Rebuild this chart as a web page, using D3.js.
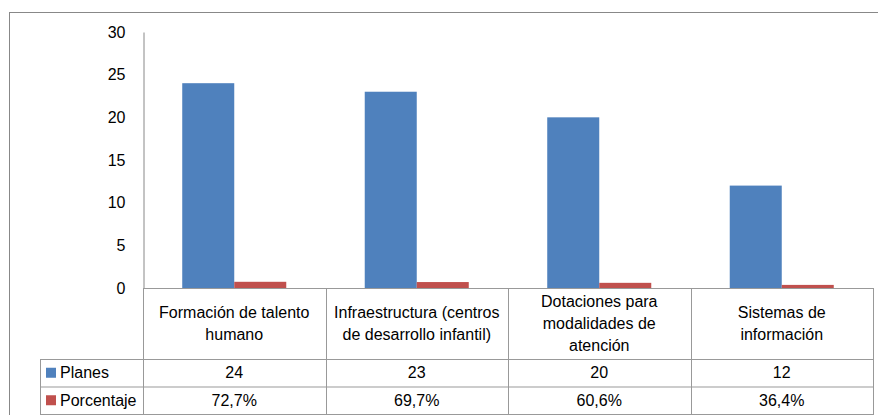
<!DOCTYPE html>
<html>
<head>
<meta charset="utf-8">
<script src="https://cdn.jsdelivr.net/npm/d3@7"></script>
<style>
  body { margin: 0; background: #fff; }
  text { font-family: "Liberation Sans", Arial, sans-serif; fill: #000; }
</style>
</head>
<body>
<div id="area"></div>
<script>
const categories = ['Formación de talento\nhumano',
                    'Infraestructura (centros\nde desarrollo infantil)',
                    'Dotaciones para\nmodalidades de\natención',
                    'Sistemas de\ninformación']
const planes = [24, 23, 20, 12]
const porcentaje = [0.727, 0.697, 0.606, 0.364]
const porcentajeLabels = ['72,7%', '69,7%', '60,6%', '36,4%']
const yTicks = [0, 5, 10, 15, 20, 25, 30]
const series = [
  {name: 'Planes', values: planes, labels: planes.map(String), color: '#4F81BD'},
  {name: 'Porcentaje', values: porcentaje, labels: porcentajeLabels, color: '#C0504D'}
]

const svg = d3.select('#area')
            .append('svg')
            .attr('width', 878)
            .attr('height', 415)

// outer chart border (runs off the right and bottom edge)
svg.append('rect')
    .attr('x', 9.5)
    .attr('y', 12.5)
    .attr('width', 900)
    .attr('height', 500)
    .attr('fill', 'none')
    .attr('stroke', '#888')

const plotLeft = 143, plotRight = 873, plotTop = 32, plotBottom = 288
const rowTop = 359, rowMid = 386.5, rowBottom = 414
const legendLeft = 40

const yScale = d3.scaleLinear()
              .domain([0, 30])
              .range([plotBottom, plotTop])
const xScale = d3.scaleBand()
              .domain(d3.range(categories.length))
              .range([plotLeft, plotRight])
              .paddingInner(0.43)
              .paddingOuter(0.215)
const sScale = d3.scaleBand()
              .domain(series.map(s => s.name))
              .range([0, xScale.bandwidth()])

// y axis
const yAxis = svg.append('g')
    .attr('transform', `translate(${plotLeft + 0.5},0)`)
    .call(d3.axisLeft(yScale).tickValues(yTicks).tickSize(0).tickSizeOuter(0).tickPadding(18))
yAxis.select('.domain').attr('stroke', '#888')
yAxis.selectAll('text')
    .style('font-family', '"Liberation Sans", Arial, sans-serif')
    .style('font-size', '16px')

// bars
series.forEach(s => {
  svg.selectAll('rect.' + s.name)
      .data(s.values)
      .enter()
      .append('rect')
      .attr('class', s.name)
      .attr('x', (d, i) => xScale(i) + sScale(s.name))
      .attr('y', d => yScale(d))
      .attr('width', sScale.bandwidth())
      .attr('height', d => plotBottom - yScale(d))
      .attr('fill', s.color)
})

// data table lines
const step = xScale.step()
const lines = svg.append('g').attr('stroke', '#999').attr('stroke-width', 1)
lines.append('line').attr('x1', plotLeft).attr('x2', plotRight).attr('y1', plotBottom + 0.5).attr('y2', plotBottom + 0.5)
lines.append('line').attr('x1', legendLeft).attr('x2', plotRight).attr('y1', rowTop + 0.5).attr('y2', rowTop + 0.5)
lines.append('line').attr('x1', legendLeft).attr('x2', plotRight).attr('y1', rowMid + 0.5).attr('y2', rowMid + 0.5)
lines.append('line').attr('x1', legendLeft).attr('x2', plotRight).attr('y1', rowBottom + 0.5).attr('y2', rowBottom + 0.5)
lines.append('line').attr('x1', legendLeft + 0.5).attr('x2', legendLeft + 0.5).attr('y1', rowTop).attr('y2', rowBottom + 1)
d3.range(categories.length + 1).forEach(i => {
  const x = Math.round(plotLeft + i * step) + 0.5
  lines.append('line').attr('x1', x).attr('x2', x).attr('y1', plotBottom).attr('y2', rowBottom + 1)
})

// category labels
const catCenter = (plotBottom + rowTop) / 2
svg.selectAll('text.cat')
    .data(categories)
    .enter()
    .append('text')
    .attr('class', 'cat')
    .attr('text-anchor', 'middle')
    .style('font-size', '16px')
    .each(function(c, i) {
      const parts = c.split('\n')
      const cx = plotLeft + (i + 0.5) * step
      parts.forEach((p, j) => {
        d3.select(this).append('tspan')
          .attr('x', cx)
          .attr('y', catCenter + 5.5 + (j - (parts.length - 1) / 2) * 22)
          .text(p)
      })
    })

// value rows with legend keys
series.forEach((s, k) => {
  const y0 = k === 0 ? rowTop : rowMid
  const yc = y0 + (rowMid - rowTop) / 2
  svg.append('rect')
      .attr('x', legendLeft + 6)
      .attr('y', yc - 5)
      .attr('width', 10)
      .attr('height', 10)
      .attr('fill', s.color)
  svg.append('text')
      .attr('x', legendLeft + 20)
      .attr('y', yc + 5.5)
      .style('font-size', '16px')
      .text(s.name)
  svg.selectAll('text.v' + k)
      .data(s.labels)
      .enter()
      .append('text')
      .attr('class', 'v' + k)
      .attr('x', (d, i) => plotLeft + (i + 0.5) * step)
      .attr('y', yc + 5.5)
      .attr('text-anchor', 'middle')
      .style('font-size', '16px')
      .text(d => d)
})
</script>
</body>
</html>
